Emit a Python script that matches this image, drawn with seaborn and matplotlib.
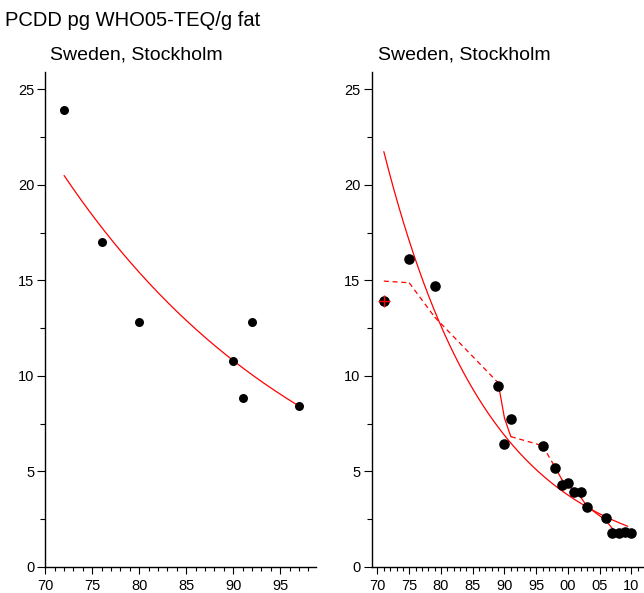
import numpy as np
import pandas as pd
import matplotlib
matplotlib.use("Agg")
import matplotlib.pyplot as plt
from matplotlib.ticker import MultipleLocator, FixedLocator
import seaborn as sns

# ---------------- data ----------------
title_main = "PCDD pg WHO05-TEQ/g fat"
panel_title = "Sweden, Stockholm"

left_years = [72, 76, 80, 90, 91, 92, 97]
left_values = [23.9, 17.0, 12.8, 10.8, 8.85, 12.8, 8.4]

right_years = [71, 75, 79, 89, 90, 91, 96, 98, 99, 100, 101, 102, 103,
               106, 107, 108, 109, 110]
right_values = [13.9, 16.1, 14.7, 9.45, 6.45, 7.75, 6.35, 5.2, 4.27, 4.37,
                3.95, 3.95, 3.13, 2.58, 1.77, 1.77, 1.85, 1.77]

left_xticks = [70, 75, 80, 85, 90, 95]
left_xticklabels = ["70", "75", "80", "85", "90", "95"]
right_xticks = [70, 75, 80, 85, 90, 95, 100, 105, 110]
right_xticklabels = ["70", "75", "80", "85", "90", "95", "00", "05", "10"]
yticks = [0, 5, 10, 15, 20, 25]

# segment style of the running-mean line (between consecutive samples)
smooth_dashed = [True, True, True, False, False, True, True, False, False,
                 False, False, False, False, False, False, False, False]

sns.set_theme(style="ticks")
plt.rcParams["font.family"] = ["Liberation Sans", "DejaVu Sans"]

W, H = 644, 593
fig = plt.figure(figsize=(W / 100, H / 100), dpi=100)

def px_axes(x0, x1, ytop, ybot):
    return fig.add_axes([x0 / W, (H - ybot) / H, (x1 - x0) / W, (ybot - ytop) / H])

ax1 = px_axes(45.3, 316, 72, 567)
ax2 = px_axes(371.7, 644, 72, 567)

def loglin_fit(xs, ys, n=200):
    xs = np.asarray(xs, float)
    ys = np.asarray(ys, float)
    b, a = np.polyfit(xs, np.log(ys), 1)
    gx = np.linspace(xs.min(), xs.max(), n)
    return gx, np.exp(a + b * gx)

red = "#ff0000"

# ---- left panel ----
dfl = pd.DataFrame({"year": left_years, "value": left_values})
fx, fy = loglin_fit(left_years, left_values)
sns.lineplot(x=fx, y=fy, ax=ax1, color=red, lw=0.9, sort=False)
sns.scatterplot(data=dfl, x="year", y="value", ax=ax1, color="black",
                s=42, edgecolor="black", linewidth=0, zorder=3)

# ---- right panel ----
dfr = pd.DataFrame({"year": right_years, "value": right_values})
fx2, fy2 = loglin_fit(right_years, right_values)
fx2 = fx2[fx2 <= 109.5]
fy2 = fy2[: len(fx2)]
sns.lineplot(x=fx2, y=fy2, ax=ax2, color=red, lw=0.9, sort=False)

# 3-point running geometric mean
smooth = np.exp(np.log(dfr["value"]).rolling(3, center=True, min_periods=2).mean())
for i in range(len(dfr) - 1):
    seg = pd.DataFrame({"year": dfr["year"].iloc[i:i + 2].values,
                        "value": smooth.iloc[i:i + 2].values})
    sns.lineplot(data=seg, x="year", y="value", ax=ax2, color=red, lw=0.9,
                 linestyle=(0, (4, 3)) if smooth_dashed[i] else "-", sort=False)

sns.scatterplot(data=dfr, x="year", y="value", ax=ax2, color="black",
                s=58, edgecolor="black", linewidth=0, zorder=3)
ax2.plot(right_years[0], right_values[0], marker="+", color=red, ms=9,
         mew=1.0, zorder=4)

for ax, xl, xt, xtl in [(ax1, (70, 98.8), left_xticks, left_xticklabels),
                        (ax2, (69.09, 111.97), right_xticks, right_xticklabels)]:
    ax.set_xlim(*xl)
    ax.set_ylim(0, 25.9)
    ax.xaxis.set_major_locator(FixedLocator(xt))
    ax.set_xticklabels(xtl)
    ax.xaxis.set_minor_locator(MultipleLocator(1))
    ax.yaxis.set_major_locator(FixedLocator(yticks))
    ax.set_yticklabels([str(v) for v in yticks])
    ax.yaxis.set_minor_locator(MultipleLocator(2.5))
    ax.tick_params(which="major", length=5.5, width=0.8, pad=2.5,
                   labelsize=10.5, colors="black", direction="out")
    ax.tick_params(which="minor", length=3.5, width=0.8, direction="out",
                   colors="black")
    ax.tick_params(axis="x", which="major", length=5, pad=4)
    ax.tick_params(axis="x", which="minor", length=3)
    for s in ["top", "right"]:
        ax.spines[s].set_visible(False)
    for s in ["left", "bottom"]:
        ax.spines[s].set_color("black")
        ax.spines[s].set_linewidth(1.0)
    ax.set_xlabel("")
    ax.set_ylabel("")
    ax.set_facecolor("white")

fig.text(5 / W, 1 - 26 / H, title_main, fontsize=14.5, color="black",
         ha="left", va="baseline")
fig.text(50 / W, 1 - 60 / H, panel_title, fontsize=14, color="black",
         ha="left", va="baseline")
fig.text(377.7 / W, 1 - 60 / H, panel_title, fontsize=14, color="black",
         ha="left", va="baseline")

fig.savefig("out.png", dpi=100, facecolor="white")
